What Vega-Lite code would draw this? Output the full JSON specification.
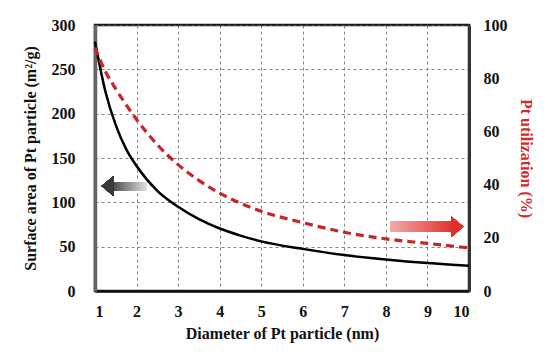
{
  "$schema": "https://vega.github.io/schema/vega-lite/v6.json",
  "width": 374,
  "height": 266,
  "autosize": "none",
  "padding": {"left": 95, "top": 25, "right": 85, "bottom": 70},
  "background": "white",
  "config": {
    "view": {"stroke": "#1a1a1a", "strokeWidth": 2.5},
    "axis": {
      "labelFont": "Liberation Serif",
      "titleFont": "Liberation Serif",
      "labelFontWeight": "bold",
      "titleFontWeight": "bold",
      "labelFontSize": 16,
      "titleFontSize": 16,
      "labelColor": "#111",
      "titleColor": "#111",
      "ticks": false,
      "gridDash": [3, 3],
      "gridColor": "#666",
      "gridWidth": 0.8
    }
  },
  "data": {
    "values": [
      {"d": 1, "area": 281, "util": 91.5},
      {"d": 1.25, "area": 225, "util": 82.5},
      {"d": 1.5, "area": 187, "util": 76},
      {"d": 1.75, "area": 160, "util": 70},
      {"d": 2, "area": 141, "util": 64.5},
      {"d": 2.5, "area": 113, "util": 55},
      {"d": 3, "area": 95, "util": 47.5},
      {"d": 3.5, "area": 81, "util": 41.6},
      {"d": 4, "area": 70.5, "util": 36.8},
      {"d": 4.5, "area": 62.5, "util": 33},
      {"d": 5, "area": 56, "util": 30},
      {"d": 6, "area": 47.5, "util": 25.7},
      {"d": 7, "area": 40.5, "util": 22.1},
      {"d": 8, "area": 35.5, "util": 19.6},
      {"d": 9, "area": 31.5, "util": 17.9},
      {"d": 10, "area": 28.5, "util": 16.2}
    ]
  },
  "encoding": {
    "x": {
      "field": "d",
      "type": "quantitative",
      "scale": {"domain": [1, 10], "nice": false},
      "axis": {
        "title": "Diameter of Pt particle (nm)",
        "values": [1, 2, 3, 4, 5, 6, 7, 8, 9, 10],
        "grid": true,
        "domainColor": "#111",
        "domainWidth": 2.5,
        "labelPadding": 12,
        "titlePadding": 6
      }
    }
  },
  "layer": [
    {
      "mark": {"type": "line", "color": "#000", "strokeWidth": 2.5, "interpolate": "monotone"},
      "encoding": {
        "y": {
          "field": "area",
          "type": "quantitative",
          "scale": {"domain": [0, 300], "nice": false},
          "axis": {
            "title": "Surface area of Pt particle (m²/g)",
            "values": [0, 50, 100, 150, 200, 250, 300],
            "grid": true,
            "domainColor": "#666",
            "domainWidth": 3.5,
            "labelPadding": 20,
            "titlePadding": 13
          }
        }
      }
    },
    {
      "mark": {"type": "line", "color": "#c4262c", "strokeWidth": 3.2, "strokeDash": [8, 5], "interpolate": "monotone"},
      "encoding": {
        "y": {
          "field": "util",
          "type": "quantitative",
          "scale": {"domain": [0, 100], "nice": false},
          "axis": {
            "orient": "right",
            "title": "Pt utilization (%)",
            "titleColor": "#d42a2a",
            "values": [0, 20, 40, 60, 80, 100],
            "grid": false,
            "domainColor": "#333",
            "domainWidth": 3,
            "labelPadding": 14,
            "titlePadding": 10
          }
        }
      }
    },
    {
      "mark": {
        "type": "bar",
        "color": {"gradient": "linear", "x1": 0, "x2": 1, "y1": 0, "y2": 0,
          "stops": [{"offset": 0, "color": "#4a4a4a"}, {"offset": 1, "color": "#dedede"}]}
      },
      "encoding": {
        "x": {"datum": 1.43},
        "x2": {"datum": 2.24},
        "y": {"datum": 113.5, "scale": {"domain": [0, 300], "nice": false}, "axis": null},
        "y2": {"datum": 123}
      }
    },
    {
      "mark": {"type": "point", "filled": true, "opacity": 1, "color": "#3a3a3a", "shape": "M-0.6,0L0.6,-1L0.6,1Z", "size": 400},
      "encoding": {
        "x": {"datum": 1.3},
        "y": {"datum": 118.3, "scale": {"domain": [0, 300], "nice": false}, "axis": null}
      }
    },
    {
      "mark": {
        "type": "bar",
        "color": {"gradient": "linear", "x1": 0, "x2": 1, "y1": 0, "y2": 0,
          "stops": [{"offset": 0, "color": "#f3aaaa"}, {"offset": 1, "color": "#e2342f"}]}
      },
      "encoding": {
        "x": {"datum": 8.1},
        "x2": {"datum": 9.59},
        "y": {"datum": 67, "scale": {"domain": [0, 300], "nice": false}, "axis": null},
        "y2": {"datum": 78}
      }
    },
    {
      "mark": {"type": "point", "filled": true, "opacity": 1, "color": "#e0302b", "shape": "M0.6,0L-0.6,-1L-0.6,1Z", "size": 420},
      "encoding": {
        "x": {"datum": 9.72},
        "y": {"datum": 72.5, "scale": {"domain": [0, 300], "nice": false}, "axis": null}
      }
    }
  ],
  "resolve": {"scale": {"y": "independent"}}
}
